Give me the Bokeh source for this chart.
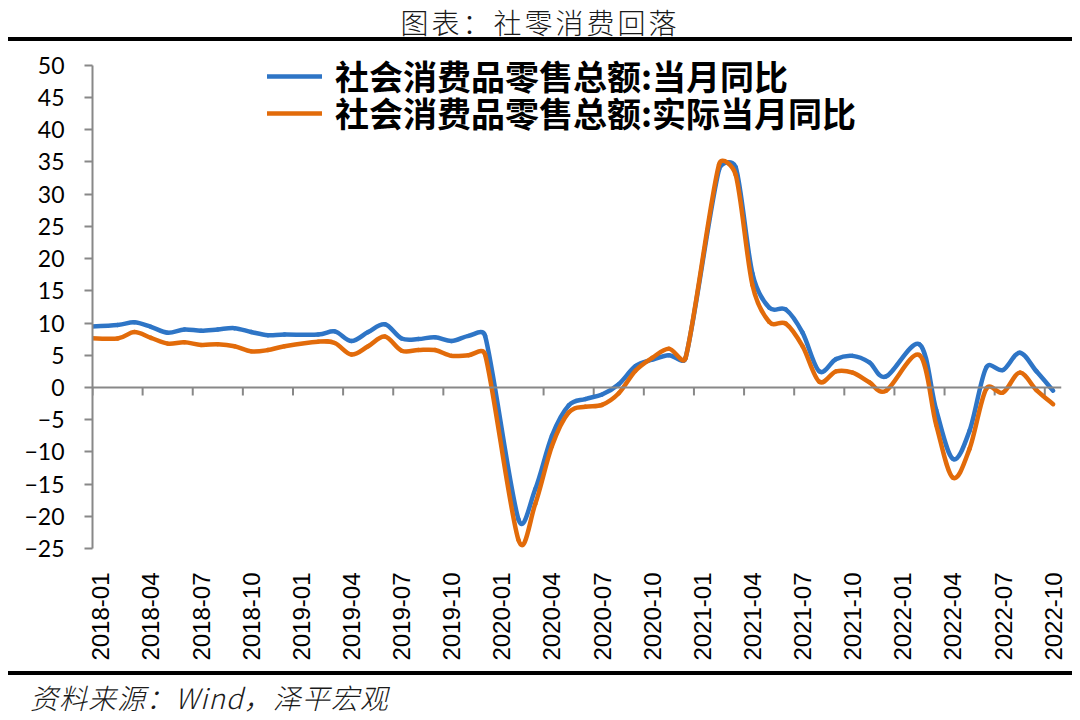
import math
from bokeh.plotting import figure
from bokeh.models import (Range1d, FixedTicker, Span, Legend, LegendItem, Div,
                          ColumnDataSource)
from bokeh.layouts import column
from bokeh.embed import file_html
from bokeh.resources import INLINE

# ---------------- data (monthly; January is folded into the Jan-Feb release) ----------------
months = [
    "2017-12",
    "2018-02", "2018-03", "2018-04", "2018-05", "2018-06", "2018-07", "2018-08", "2018-09", "2018-10", "2018-11", "2018-12",
    "2019-02", "2019-03", "2019-04", "2019-05", "2019-06", "2019-07", "2019-08", "2019-09", "2019-10", "2019-11", "2019-12",
    "2020-02", "2020-03", "2020-04", "2020-05", "2020-06", "2020-07", "2020-08", "2020-09", "2020-10", "2020-11", "2020-12",
    "2021-02", "2021-03", "2021-04", "2021-05", "2021-06", "2021-07", "2021-08", "2021-09", "2021-10", "2021-11", "2021-12",
    "2022-02", "2022-03", "2022-04", "2022-05", "2022-06", "2022-07", "2022-08", "2022-09", "2022-10",
]
nominal_yoy = [
    9.4,
    9.7, 10.1, 9.4, 8.5, 9.0, 8.8, 9.0, 9.2, 8.6, 8.1, 8.2,
    8.2, 8.7, 7.2, 8.6, 9.8, 7.6, 7.5, 7.8, 7.2, 8.0, 8.0,
    -20.5, -15.8, -7.5, -2.8, -1.8, -1.1, 0.5, 3.3, 4.3, 5.0, 4.6,
    33.8, 34.2, 17.7, 12.4, 12.1, 8.5, 2.5, 4.4, 4.9, 3.9, 1.7,
    6.7, -3.5, -11.1, -6.7, 3.1, 2.7, 5.4, 2.5, -0.5,
]
real_yoy = [
    7.7,
    7.6, 8.6, 7.7, 6.8, 7.0, 6.6, 6.7, 6.4, 5.6, 5.8, 6.4,
    7.1, 6.9, 5.1, 6.4, 7.9, 5.7, 5.8, 5.8, 4.9, 5.0, 5.1,
    -23.7, -18.1, -9.1, -3.9, -3.0, -2.7, -0.9, 2.6, 4.6, 6.0, 4.6,
    34.6, 33.0, 15.9, 10.2, 9.9, 6.4, 0.9, 2.5, 2.3, 0.8, -0.5,
    5.0, -5.8, -14.0, -9.5, -0.2, -0.8, 2.3, -0.4, -2.6,
]
series_names = ["社会消费品零售总额:当月同比", "社会消费品零售总额:实际当月同比"]
tick_labels = [
    "2018-01", "2018-04", "2018-07", "2018-10",
    "2019-01", "2019-04", "2019-07", "2019-10",
    "2020-01", "2020-04", "2020-07", "2020-10",
    "2021-01", "2021-04", "2021-07", "2021-10",
    "2022-01", "2022-04", "2022-07", "2022-10",
]
y_ticks = [-25, -20, -15, -10, -5, 0, 5, 10, 15, 20, 25, 30, 35, 40, 45, 50]
title_text = "图表：社零消费回落"
source_text = "资料来源：Wind，泽平宏观"

# ---------------- styling / layout ----------------
BLUE = "#2E75C6"
ORANGE = "#E26B0A"
AXIS_GRAY = "#888888"
CJK = "Noto Sans CJK SC"

FIG_W, FIG_H = 1080, 626
BORDER_L, BORDER_R, BORDER_T, BORDER_B = 92, 19, 5, 123
FRAME_W = FIG_W - BORDER_L - BORDER_R
FRAME_H = FIG_H - BORDER_T - BORDER_B
Y_VIEW_TOP = 52.3   # a little headroom above the 50 tick for the legend


def month_index(s):
    y, m = s.split("-")
    return (int(y) - 2018) * 12 + int(m) - 1


xs = [month_index(m) for m in months]
tick_pos = [month_index(t) for t in tick_labels]
x_start, x_end = tick_pos[0] - 0.5, tick_pos[-1] + 0.5
y_start, y_end = y_ticks[0], Y_VIEW_TOP
SX = FRAME_W / (x_end - x_start)   # px per month
SY = FRAME_H / (y_end - y_start)   # px per percentage point


def smooth_source(xv, yv):
    """Excel-like smoothed line: Catmull-Rom tangents (screen space) as cubic
    Bezier segments, with control arms limited to half the adjacent segment."""
    n = len(xv)
    P = [(x * SX, y * SY) for x, y in zip(xv, yv)]

    def dist(a, b):
        return math.hypot(b[0] - a[0], b[1] - a[1])

    tan = []
    for i in range(n):
        a = P[max(i - 1, 0)]
        b = P[min(i + 1, n - 1)]
        tx, ty = (b[0] - a[0]) / 6.0, (b[1] - a[1]) / 6.0
        tan.append((tx, ty))

    def arm(i, seg_len):
        tx, ty = tan[i]
        L = math.hypot(tx, ty)
        lim = 0.5 * seg_len
        if L > lim and L > 0:
            tx, ty = tx * lim / L, ty * lim / L
        return tx, ty

    d = dict(x0=[], y0=[], x1=[], y1=[], cx0=[], cy0=[], cx1=[], cy1=[])
    for i in range(n - 1):
        seg = dist(P[i], P[i + 1])
        a0 = arm(i, seg)
        a1 = arm(i + 1, seg)
        c0 = (P[i][0] + a0[0], P[i][1] + a0[1])
        c1 = (P[i + 1][0] - a1[0], P[i + 1][1] - a1[1])
        d["x0"].append(xv[i]); d["y0"].append(yv[i])
        d["x1"].append(xv[i + 1]); d["y1"].append(yv[i + 1])
        d["cx0"].append(c0[0] / SX); d["cy0"].append(c0[1] / SY)
        d["cx1"].append(c1[0] / SX); d["cy1"].append(c1[1] / SY)
    return ColumnDataSource(d)


p = figure(width=FIG_W, height=FIG_H, output_backend="svg", toolbar_location=None,
           x_range=Range1d(x_start, x_end), y_range=Range1d(y_start, y_end),
           min_border_left=BORDER_L, min_border_right=BORDER_R,
           min_border_top=BORDER_T, min_border_bottom=BORDER_B)
p.outline_line_color = None
p.xgrid.grid_line_color = None
p.ygrid.grid_line_color = None
p.background_fill_color = "white"
p.border_fill_color = "white"

# zero line with tick marks on the category boundaries
p.add_layout(Span(location=0, dimension="width", line_color=AXIS_GRAY, line_width=2))
p.ray(x=[t - 0.5 for t in tick_pos], y=[0] * len(tick_pos), length=8,
      length_units="screen", angle=-math.pi / 2, line_color=AXIS_GRAY, line_width=2)

r_blue = p.bezier(x0="x0", y0="y0", x1="x1", y1="y1", cx0="cx0", cy0="cy0",
                  cx1="cx1", cy1="cy1", source=smooth_source(xs, nominal_yoy),
                  line_color=BLUE, line_width=4.5, line_cap="round", line_join="round")
r_orange = p.bezier(x0="x0", y0="y0", x1="x1", y1="y1", cx0="cx0", cy0="cy0",
                    cx1="cx1", cy1="cy1", source=smooth_source(xs, real_yoy),
                    line_color=ORANGE, line_width=4.5, line_cap="round", line_join="round")

# y axis
p.yaxis.ticker = FixedTicker(ticks=y_ticks)
p.yaxis.bounds = (y_ticks[0], y_ticks[-1])
p.yaxis.axis_line_color = AXIS_GRAY
p.yaxis.axis_line_width = 2
p.yaxis.major_tick_line_color = AXIS_GRAY
p.yaxis.major_tick_line_width = 2
p.yaxis.major_tick_out = 8
p.yaxis.major_tick_in = 0
p.yaxis.minor_tick_line_color = None
p.yaxis.major_label_standoff = 20
p.yaxis.major_label_text_font = "Lato"
p.yaxis.major_label_text_font_size = "23px"
p.yaxis.major_label_text_color = "#000000"

# x axis: labels only (the visible axis line is the zero line)
p.xaxis.ticker = FixedTicker(ticks=tick_pos)
p.xaxis.major_label_overrides = {t: lab for t, lab in zip(tick_pos, tick_labels)}
p.xaxis.major_label_orientation = math.pi / 2
p.xaxis.axis_line_color = None
p.xaxis.major_tick_line_color = None
p.xaxis.minor_tick_line_color = None
p.xaxis.major_label_standoff = 18
p.xaxis.major_label_text_font = "Liberation Sans"
p.xaxis.major_label_text_font_size = "24px"
p.xaxis.major_label_text_color = "#000000"

# one legend per row so the row pitch matches the reference
legend_style = dict(orientation="vertical", glyph_width=55, glyph_height=34,
                    label_height=34, spacing=0, label_standoff=13, padding=0,
                    margin=0, border_line_color=None, background_fill_alpha=0,
                    label_text_font=CJK, label_text_font_size="34px",
                    label_text_font_style="bold", label_text_color="#000000")
p.add_layout(Legend(items=[LegendItem(label=series_names[0], renderers=[r_blue])],
                    location=(175, 448), **legend_style))
p.add_layout(Legend(items=[LegendItem(label=series_names[1], renderers=[r_orange])],
                    location=(175, 411), **legend_style))

top = Div(text=(
    '<div style="margin-left:8px;width:1064px;height:41px;box-sizing:border-box;'
    'padding-top:7px;border-bottom:4px solid #000;text-align:center;'
    'font-family:\'Noto Sans CJK SC\';font-size:28px;line-height:30px;'
    'letter-spacing:3px;color:#1a1a1a;font-weight:300;">'
    + title_text + '</div>'), width=1080, height=45, margin=0)
bottom = Div(text=(
    '<div style="margin-left:8px;width:1064px;height:49px;box-sizing:border-box;'
    'border-top:4px solid #000;padding-left:22px;padding-top:7px;'
    'font-family:\'Noto Sans CJK SC\';font-size:28px;line-height:30px;'
    'letter-spacing:1px;font-style:italic;color:#1a1a1a;font-weight:300;">'
    + source_text + '</div>'), width=1080, height=49, margin=0)

layout = column(top, p, bottom, spacing=0)
open("out.html", "w").write(file_html(layout, INLINE))
